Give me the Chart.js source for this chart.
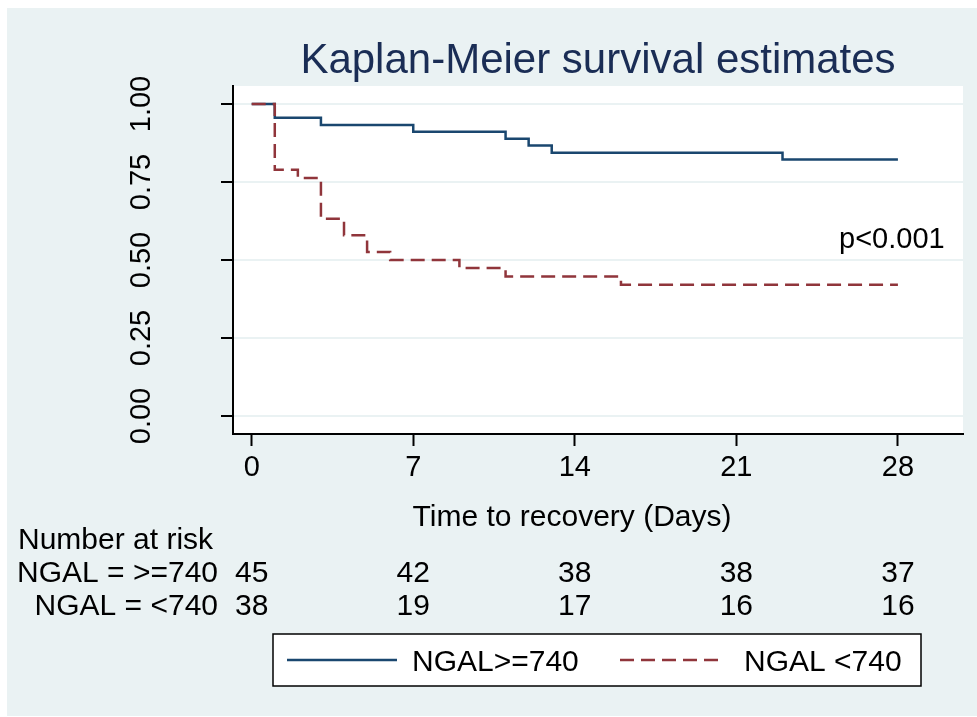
<!DOCTYPE html>
<html>
<head>
<meta charset="utf-8">
<script src="https://cdn.jsdelivr.net/npm/chart.js@4/dist/chart.umd.min.js"></script>
<style>
  html, body { margin: 0; padding: 0; background: #fff; }
  canvas { display: block; }
</style>
</head>
<body>
<canvas id="km" width="977" height="717"></canvas>
<script>
// Kaplan-Meier step data: event times (days) and survival just after each time
const highTimes = [0, 1, 3, 7, 11, 12, 13, 23, 28];
const highSurvival = [1.0, 0.956, 0.933, 0.911, 0.889, 0.867, 0.844, 0.822, 0.822];
const lowTimes = [0, 1, 2, 3, 4, 5, 6, 9, 11, 16, 28];
const lowSurvival = [1.0, 0.789, 0.763, 0.632, 0.579, 0.526, 0.5, 0.474, 0.447, 0.421, 0.421];

// Number-at-risk table
const riskTimes = [0, 7, 14, 21, 28];
const highAtRisk = [45, 42, 38, 38, 37];
const lowAtRisk = [38, 19, 17, 16, 16];

// Axis ticks
const xTicks = [0, 7, 14, 21, 28];
const yTicks = [0, 0.25, 0.5, 0.75, 1];

const FONT = '"Liberation Sans", Arial, Helvetica, sans-serif';
const NAVY = '#1a476f';
const MAROON = '#90353b';
const BG = '#eaf2f3';

const toPoints = (xs, ys) => xs.map((t, i) => ({ x: t, y: ys[i] }));

const decor = {
  id: 'decor',
  beforeDraw(chart) {
    const { ctx, chartArea: a } = chart;
    ctx.save();
    ctx.fillStyle = '#fff';
    ctx.fillRect(0, 0, chart.width, chart.height);
    ctx.fillStyle = BG;
    ctx.fillRect(7, 8, chart.width - 7, chart.height - 9);
    ctx.fillStyle = '#fff';
    ctx.fillRect(a.left, a.top, a.right - a.left, a.bottom - a.top);
    ctx.restore();
  },
  afterDraw(chart) {
    const { ctx, chartArea: a, scales: { x } } = chart;
    ctx.save();
    ctx.textBaseline = 'alphabetic';

    // title
    ctx.fillStyle = '#1a2d55';
    ctx.font = '42px ' + FONT;
    ctx.textAlign = 'center';
    ctx.fillText('Kaplan-Meier survival estimates', (a.left + a.right) / 2, 73);

    ctx.fillStyle = '#000';
    // log-rank result
    ctx.font = '29px ' + FONT;
    ctx.textAlign = 'left';
    ctx.fillText('p<0.001', 839, 248);

    // x axis title
    ctx.font = '30px ' + FONT;
    ctx.textAlign = 'center';
    ctx.fillText('Time to recovery (Days)', 572, 526);

    // number at risk table
    ctx.font = '30px ' + FONT;
    ctx.textAlign = 'left';
    ctx.fillText('Number at risk', 18, 549);
    ctx.textAlign = 'right';
    ctx.fillText('NGAL = >=740', 218, 582);
    ctx.fillText('NGAL = <740', 218, 615);
    ctx.textAlign = 'center';
    riskTimes.forEach((t, i) => {
      const px = x.getPixelForValue(t);
      ctx.fillText(String(highAtRisk[i]), px, 582);
      ctx.fillText(String(lowAtRisk[i]), px, 615);
    });

    // legend box
    const lx = 273, ly = 634, lw = 648, lh = 52;
    ctx.fillStyle = '#fff';
    ctx.fillRect(lx, ly, lw, lh);
    ctx.strokeStyle = '#000';
    ctx.lineWidth = 1.5;
    ctx.strokeRect(lx, ly, lw, lh);
    const my = ly + lh / 2;
    ctx.lineWidth = 2.5;
    ctx.strokeStyle = NAVY;
    ctx.beginPath(); ctx.moveTo(287, my); ctx.lineTo(397, my); ctx.stroke();
    ctx.strokeStyle = MAROON;
    ctx.setLineDash([14, 7]);
    ctx.beginPath(); ctx.moveTo(620, my); ctx.lineTo(725, my); ctx.stroke();
    ctx.setLineDash([]);
    ctx.fillStyle = '#000';
    ctx.font = '30px ' + FONT;
    ctx.textAlign = 'left';
    ctx.fillText('NGAL>=740', 412, my + 11);
    ctx.fillText('NGAL <740', 744, my + 11);
    ctx.restore();
  }
};

new Chart(document.getElementById('km'), {
  type: 'line',
  data: {
    datasets: [
      {
        label: 'NGAL>=740',
        data: toPoints(highTimes, highSurvival),
        borderColor: NAVY,
        borderWidth: 2.5,
        stepped: true,
        pointRadius: 0,
        fill: false,
        order: 1
      },
      {
        label: 'NGAL <740',
        data: toPoints(lowTimes, lowSurvival),
        borderColor: MAROON,
        borderWidth: 2.5,
        borderDash: [14, 7],
        stepped: true,
        pointRadius: 0,
        fill: false,
        order: 0
      }
    ]
  },
  options: {
    responsive: false,
    animation: false,
    layout: { padding: { top: 86, right: 14, bottom: 0, left: 0 } },
    plugins: {
      legend: { display: false },
      title: { display: false },
      tooltip: { enabled: false }
    },
    scales: {
      x: {
        type: 'linear',
        min: -0.81,
        max: 30.82,
        afterBuildTicks: s => { s.ticks = xTicks.map(v => ({ value: v })); },
        afterFit: s => { s.height = 283; },
        grid: { drawOnChartArea: false, tickLength: 12, tickColor: '#000', tickWidth: 2 },
        border: { color: '#000', width: 2 },
        ticks: {
          font: { family: FONT, size: 29 },
          color: '#000',
          padding: 5,
          maxRotation: 0,
          autoSkip: false
        }
      },
      y: {
        type: 'linear',
        min: -0.0577,
        max: 1.0577,
        afterBuildTicks: s => { s.ticks = yTicks.map(v => ({ value: v })); },
        afterFit: s => { s.width = 233; },
        grid: { color: BG, lineWidth: 2, tickLength: 12, tickColor: '#000', tickWidth: 2 },
        border: { color: '#000', width: 2 },
        ticks: {
          font: { family: FONT, size: 29 },
          color: '#000',
          minRotation: 90,
          maxRotation: 90,
          crossAlign: 'center',
          padding: 51,
          autoSkip: false,
          callback: v => Number(v).toFixed(2)
        }
      }
    }
  },
  plugins: [decor]
});
</script>
</body>
</html>
